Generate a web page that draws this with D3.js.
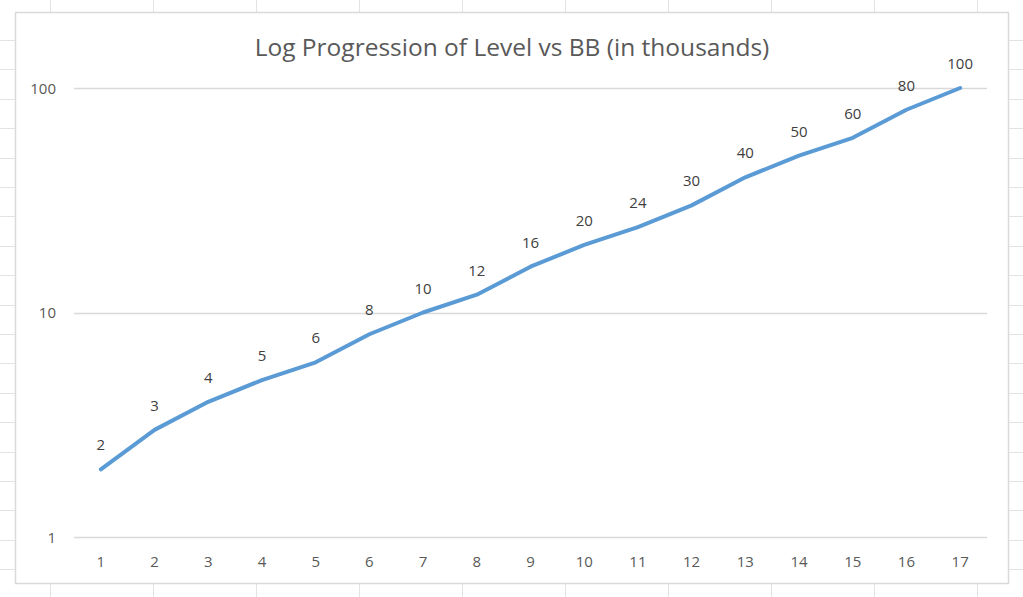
<!DOCTYPE html>
<html>
<head>
<meta charset="utf-8">
<script src="https://cdn.jsdelivr.net/npm/d3@7"></script>
<style>
  body { margin: 0; background: #fff; }
  svg text { font-family: "Open Sans", "Noto Sans", sans-serif; fill: #595959; }
</style>
</head>
<body>
<svg id="chart" width="1023" height="597"></svg>
<script>
// datos del grafico
var niveles = [1, 2, 3, 4, 5, 6, 7, 8, 9, 10, 11, 12, 13, 14, 15, 16, 17];
var bb = [2, 3, 4, 5, 6, 8, 10, 12, 16, 20, 24, 30, 40, 50, 60, 80, 100];
var ticksY = [1, 10, 100];
var titulo = "Log Progression of Level vs BB (in thousands)";

var svg = d3.select("#chart");

// cuadricula de la hoja de calculo detras
var colsHoja = d3.range(50, 1023, 103);
var filasHoja = d3.range(40, 597, 29.4);
svg.append("g").selectAll("line").data(colsHoja).join("line")
  .attr("x1", d => d + 0.5).attr("x2", d => d + 0.5).attr("y1", 0).attr("y2", 597)
  .attr("stroke", "#e3e3e3").attr("stroke-width", 1);
svg.append("g").selectAll("line").data(filasHoja).join("line")
  .attr("x1", 0).attr("x2", 1023).attr("y1", d => Math.round(d) + 0.5).attr("y2", d => Math.round(d) + 0.5)
  .attr("stroke", "#e3e3e3").attr("stroke-width", 1);

// area del grafico
svg.append("rect")
  .attr("x", 15.5).attr("y", 12.5).attr("width", 993).attr("height", 571)
  .attr("fill", "#fff").attr("stroke", "#d9d9d9").attr("stroke-width", 1.5);

var x = d3.scaleBand().domain(niveles).range([74, 987]);
var y = d3.scaleLog().domain([1, 100]).range([537, 88]);

// lineas de la cuadricula
svg.append("g").selectAll("line").data(ticksY).join("line")
  .attr("x1", 74).attr("x2", 987)
  .attr("y1", d => Math.round(y(d)) + 0.5).attr("y2", d => Math.round(y(d)) + 0.5)
  .attr("stroke", "#d9d9d9").attr("stroke-width", 1.5);

// etiquetas eje Y
svg.append("g").selectAll("text").data(ticksY).join("text")
  .attr("x", 56).attr("y", d => y(d) + 5.5)
  .attr("text-anchor", "end").attr("font-size", 15)
  .text(d => d);

// etiquetas eje X
svg.append("g").selectAll("text").data(niveles).join("text")
  .attr("x", d => x(d) + x.bandwidth() / 2).attr("y", 567)
  .attr("text-anchor", "middle").attr("font-size", 15)
  .text(d => d);

// linea
var puntos = niveles.map((n, i) => ({ n: n, v: bb[i] }));
var linea = d3.line()
  .x(d => x(d.n) + x.bandwidth() / 2)
  .y(d => y(d.v));
svg.append("path").datum(puntos)
  .attr("fill", "none").attr("stroke", "#5b9bd5").attr("stroke-width", 4)
  .attr("stroke-linejoin", "round").attr("stroke-linecap", "round")
  .attr("d", linea);

// etiquetas de datos
svg.append("g").selectAll("text").data(puntos).join("text")
  .attr("x", d => x(d.n) + x.bandwidth() / 2).attr("y", d => y(d.v) - 19)
  .attr("text-anchor", "middle").attr("font-size", 15)
  .style("fill", "#404040")
  .text(d => d.v);

// titulo
svg.append("text")
  .attr("x", 512).attr("y", 56).attr("text-anchor", "middle")
  .attr("font-size", 24.5)
  .text(titulo);
</script>
</body>
</html>
